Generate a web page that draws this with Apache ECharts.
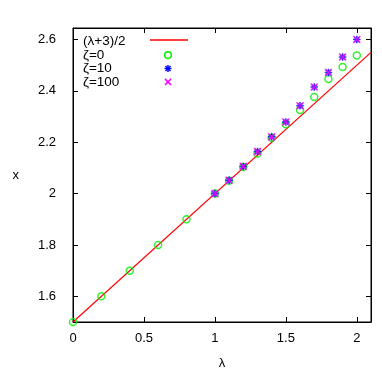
<!DOCTYPE html>
<html>
<head>
<meta charset="utf-8">
<script src="https://cdn.jsdelivr.net/npm/echarts@6/dist/echarts.min.js"></script>
<style>html,body{margin:0;padding:0;background:#fff;}#c{width:382px;height:375px;}</style>
</head>
<body>
<div id="c"></div>
<script>
// ---- data ----
var xTicks = [0, 0.5, 1, 1.5, 2];
var xTickLabels = ['0', '0.5', '1', '1.5', '2'];
var yTicks = [1.6, 1.8, 2.0, 2.2, 2.4, 2.6];
var yTickLabels = ['1.6', '1.8', '2', '2.2', '2.4', '2.6'];

var lineName = '(λ+3)/2';
var lineX = [0, 2.1];
var lineY = [1.5, 2.55];

var z0Name = 'ζ=0';
var z0X = [0, 0.2, 0.4, 0.6, 0.8, 1.0, 1.1, 1.2, 1.3, 1.4, 1.5, 1.6, 1.7, 1.8, 1.9, 2.0];
var z0Y = [1.5, 1.6, 1.7, 1.8, 1.9, 2.0, 2.05, 2.104, 2.156, 2.218, 2.27, 2.326, 2.376, 2.446, 2.493, 2.538];

var z10Name = 'ζ=10';
var z10X = [1.0, 1.1, 1.2, 1.3, 1.4, 1.5, 1.6, 1.7, 1.8, 1.9, 2.0];
var z10Y = [2.0, 2.052, 2.106, 2.164, 2.221, 2.279, 2.342, 2.415, 2.472, 2.532, 2.6];

var z100Name = 'ζ=100';
var z100X = [1.0, 1.1, 1.2, 1.3, 1.4, 1.5, 1.6, 1.7, 1.8, 1.9, 2.0];
var z100Y = [2.0, 2.052, 2.106, 2.164, 2.221, 2.279, 2.342, 2.415, 2.472, 2.532, 2.6];

var xMin = 0, xMax = 2.1, yMin = 1.5, yMax = 2.645;

function pairs(xs, ys) { return xs.map(function (x, i) { return [x, ys[i]]; }); }

var FONT = 'Liberation Sans';
var GREEN = '#00ee00', BLUE = '#0000ff', MAGENTA = '#ff00ff', RED = '#ff0000';
var starPath = 'path://M0,5L10,5M5,0L5,10M1.5,1.5L8.5,8.5M8.5,1.5L1.5,8.5';
var crossPath = 'path://M0,0L10,10M10,0L0,10';

// legend (drawn as graphic: text left, sample to the right, like gnuplot)
var legNames = [lineName, z0Name, z10Name, z100Name];
var legTextX = 83, legTop = 41.7, legStep = 13.4, legSampleX = 168;
var legendGraphics = [];
legNames.forEach(function (n, i) {
  var cy = legTop + i * legStep;
  legendGraphics.push({type: 'text', left: legTextX, top: cy - 7, style: {text: n, fill: '#000', font: '13.5px ' + FONT}, z: 10});
});
legendGraphics.push({type: 'line', shape: {x1: 150, y1: 40, x2: 188, y2: 40}, style: {stroke: RED, lineWidth: 1.5}, z: 10});
(function () {
  var cy1 = legTop + legStep, cy2 = legTop + 2 * legStep, cy3 = legTop + 3 * legStep;
  legendGraphics.push({type: 'circle', shape: {cx: legSampleX, cy: cy1, r: 3.3}, style: {fill: 'none', stroke: GREEN, lineWidth: 1.5}, z: 10});
  var s = 3.5;
  legendGraphics.push({type: 'polyline', shape: {points: [[legSampleX - s, cy2], [legSampleX + s, cy2]]}, style: {stroke: BLUE, lineWidth: 1.5}, z: 10});
  legendGraphics.push({type: 'polyline', shape: {points: [[legSampleX, cy2 - s], [legSampleX, cy2 + s]]}, style: {stroke: BLUE, lineWidth: 1.5}, z: 10});
  legendGraphics.push({type: 'polyline', shape: {points: [[legSampleX - 2.5, cy2 - 2.5], [legSampleX + 2.5, cy2 + 2.5]]}, style: {stroke: BLUE, lineWidth: 1.5}, z: 10});
  legendGraphics.push({type: 'polyline', shape: {points: [[legSampleX + 2.5, cy2 - 2.5], [legSampleX - 2.5, cy2 + 2.5]]}, style: {stroke: BLUE, lineWidth: 1.5}, z: 10});
  legendGraphics.push({type: 'polyline', shape: {points: [[legSampleX - 3, cy3 - 3], [legSampleX + 3, cy3 + 3]]}, style: {stroke: MAGENTA, lineWidth: 1.5}, z: 10});
  legendGraphics.push({type: 'polyline', shape: {points: [[legSampleX + 3, cy3 - 3], [legSampleX - 3, cy3 + 3]]}, style: {stroke: MAGENTA, lineWidth: 1.5}, z: 10});
})();

var chart = echarts.init(document.getElementById('c'), null, {renderer: 'canvas'});
var tickStyle = {show: true, inside: true, length: 5, lineStyle: {color: '#000', width: 1}};
chart.setOption({
  animation: false,
  backgroundColor: '#fff',
  textStyle: {fontFamily: FONT},
  grid: {left: 73, right: 11, top: 28, bottom: 52, show: true, borderColor: '#000', borderWidth: 1, backgroundColor: 'transparent'},
  graphic: legendGraphics,
  xAxis: [{
    type: 'value', min: xMin, max: xMax, position: 'bottom',
    name: 'λ', nameLocation: 'middle', nameGap: 35,
    nameTextStyle: {fontFamily: FONT, fontSize: 13, color: '#000'},
    axisLine: {show: true, onZero: false, lineStyle: {color: '#000'}},
    axisTick: Object.assign({customValues: xTicks}, tickStyle),
    axisLabel: {customValues: xTicks, formatter: function (v) { return xTickLabels[xTicks.indexOf(v)]; }, fontFamily: FONT, fontSize: 13, color: '#000', margin: 10},
    splitLine: {show: false}
  }, {
    type: 'value', min: xMin, max: xMax, position: 'top',
    axisLine: {show: true, onZero: false, lineStyle: {color: '#000'}},
    axisTick: Object.assign({customValues: xTicks}, tickStyle),
    axisLabel: {show: false}, splitLine: {show: false}
  }],
  yAxis: [{
    type: 'value', min: yMin, max: yMax, position: 'left',
    name: 'x', nameLocation: 'middle', nameGap: 54, nameRotate: 0,
    nameTextStyle: {fontFamily: FONT, fontSize: 13, color: '#000'},
    axisLine: {show: true, onZero: false, lineStyle: {color: '#000'}},
    axisTick: Object.assign({customValues: yTicks}, tickStyle),
    axisLabel: {customValues: yTicks, formatter: function (v) { var i = yTicks.findIndex(function (t) { return Math.abs(t - v) < 1e-6; }); return yTickLabels[i]; }, fontFamily: FONT, fontSize: 13, color: '#000', margin: 17},
    splitLine: {show: false}
  }, {
    type: 'value', min: yMin, max: yMax, position: 'right',
    axisLine: {show: true, onZero: false, lineStyle: {color: '#000'}},
    axisTick: Object.assign({customValues: yTicks}, tickStyle),
    axisLabel: {show: false}, splitLine: {show: false}
  }],
  series: [{
    name: lineName, type: 'line', data: pairs(lineX, lineY), showSymbol: false, symbol: 'none',
    lineStyle: {color: RED, width: 1.2}, itemStyle: {color: RED}, z: 2
  }, {
    name: z0Name, type: 'scatter', data: pairs(z0X, z0Y), symbol: 'circle', symbolSize: 7,
    itemStyle: {color: 'none', borderColor: GREEN, borderWidth: 1.5}, z: 3
  }, {
    name: z10Name, type: 'scatter', data: pairs(z10X, z10Y), symbol: starPath, symbolSize: 7.5,
    itemStyle: {color: 'none', borderColor: BLUE, borderWidth: 1.5}, z: 4
  }, {
    name: z100Name, type: 'scatter', data: pairs(z100X, z100Y), symbol: crossPath, symbolSize: 7,
    itemStyle: {color: 'none', borderColor: MAGENTA, borderWidth: 1.5}, z: 5
  }]
});
</script>
</body>
</html>
